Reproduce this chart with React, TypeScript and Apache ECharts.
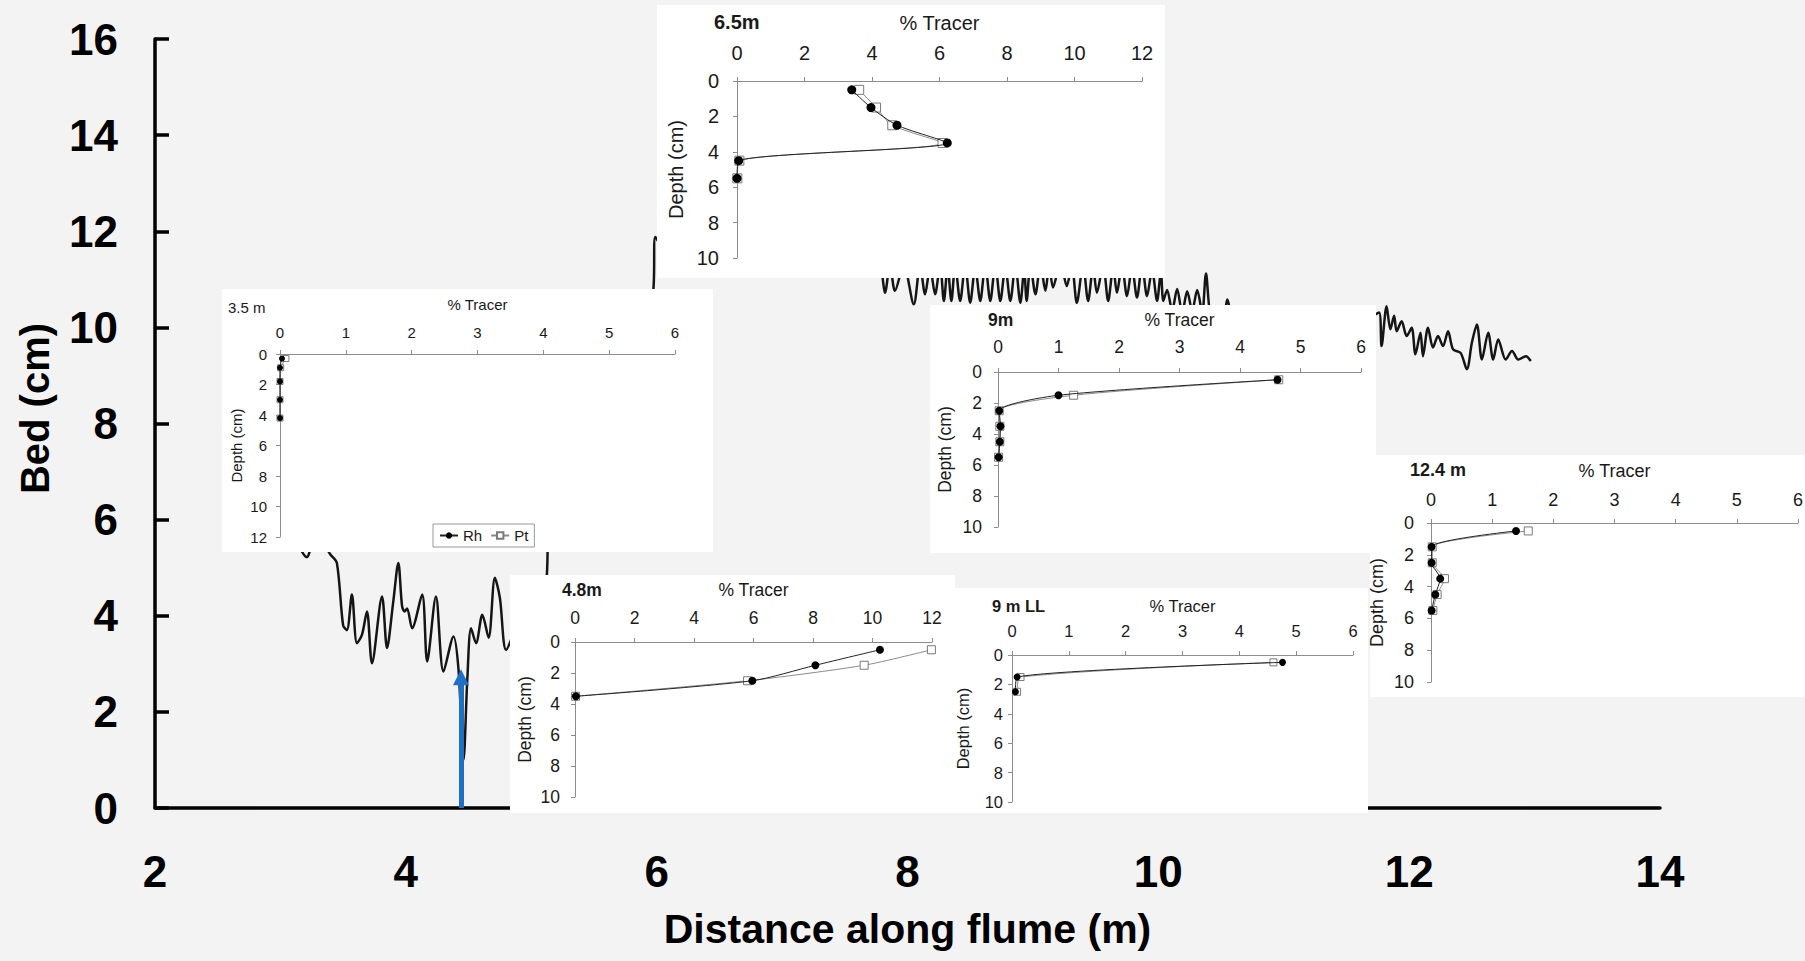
import React, { useEffect, useRef } from "react";
import * as echarts from "echarts";

const FONT = '"Liberation Sans", Arial, Helvetica, sans-serif';

// ---------- main bed profile (distance m, bed height cm) ----------
const bedProfile: [number, number][] = [
  [3.0, 6.2], [3.1, 5.7], [3.21, 5.22], [3.28, 5.7], [3.34, 5.5], [3.4, 5.27], [3.45, 5.1],
  [3.5, 3.8], [3.53, 3.7], [3.57, 4.44], [3.61, 3.43], [3.65, 3.6], [3.69, 4.09], [3.73, 3.01],
  [3.81, 4.4], [3.85, 3.33], [3.9, 4.3], [3.94, 5.1], [3.97, 4.2], [3.99, 4.09], [4.01, 4.15],
  [4.05, 3.74], [4.13, 4.44], [4.17, 3.05], [4.24, 4.4], [4.3, 2.84], [4.38, 3.57], [4.42, 2.88],
  [4.46, 1.0], [4.49, 2.67], [4.52, 3.74], [4.56, 3.43], [4.61, 4.02], [4.66, 3.54], [4.71, 4.79],
  [4.75, 4.37], [4.8, 3.29], [4.9, 3.9], [5.0, 4.3], [5.08, 4.6], [5.12, 4.7], [5.14, 6.0],
  [5.25, 8.0], [5.45, 9.3], [5.65, 10.0], [5.85, 10.4], [5.97, 10.7], [5.99, 11.88], [6.1, 11.5],
  [6.3, 11.7], [6.6, 11.4], [6.9, 11.6], [7.2, 11.3], [7.5, 11.5], [7.7, 11.1], [7.78, 11.2],
  [7.82, 10.72], [7.86, 11.3], [7.9, 10.76], [7.97, 11.3], [8.05, 10.48], [8.1, 11.3], [8.14, 10.69],
  [8.18, 11.25], [8.22, 10.69], [8.26, 11.3], [8.29, 10.55], [8.32, 11.25], [8.35, 10.55], [8.38, 11.3],
  [8.42, 10.55], [8.46, 11.3], [8.5, 10.51], [8.54, 11.25], [8.58, 10.55], [8.62, 11.3], [8.66, 10.55],
  [8.7, 11.3], [8.74, 10.55], [8.78, 11.25], [8.82, 10.55], [8.86, 11.3], [8.9, 10.51], [8.93, 11.2],
  [8.95, 10.55], [8.98, 11.3], [9.02, 10.69], [9.06, 11.3], [9.1, 10.76], [9.13, 11.3], [9.16, 10.83],
  [9.22, 11.35], [9.27, 10.86], [9.31, 11.3], [9.35, 10.51], [9.4, 11.3], [9.44, 10.55], [9.48, 11.25],
  [9.51, 10.72], [9.56, 11.3], [9.6, 10.55], [9.64, 11.25], [9.67, 10.72], [9.71, 11.3], [9.75, 10.65],
  [9.79, 11.25], [9.83, 10.62], [9.87, 11.3], [9.91, 10.65], [9.95, 11.2], [9.99, 10.55], [10.02, 11.15],
  [10.04, 10.55], [10.07, 10.78], [10.11, 10.35], [10.15, 10.8], [10.19, 10.3], [10.23, 10.75],
  [10.27, 10.35], [10.31, 10.78], [10.35, 10.3], [10.38, 11.12], [10.42, 10.3], [10.47, 10.4],
  [10.52, 10.2], [10.55, 10.58], [10.6, 10.15], [10.7, 10.4], [10.8, 10.1], [10.9, 10.35], [11.0, 10.0],
  [11.1, 10.3], [11.2, 9.9], [11.3, 10.2], [11.4, 9.9], [11.5, 10.3], [11.6, 9.8], [11.7, 10.2],
  [11.76, 10.31], [11.78, 9.61], [11.82, 10.44], [11.85, 9.96], [11.88, 10.24], [11.9, 9.92],
  [11.94, 10.13], [11.98, 9.82], [12.02, 9.99], [12.05, 9.44], [12.09, 9.89], [12.11, 9.4],
  [12.15, 9.99], [12.19, 9.58], [12.23, 9.82], [12.27, 9.61], [12.31, 9.92], [12.35, 9.54],
  [12.41, 9.47], [12.46, 9.13], [12.5, 9.68], [12.54, 10.06], [12.58, 9.33], [12.63, 9.89],
  [12.67, 9.33], [12.71, 9.75], [12.77, 9.33], [12.82, 9.51], [12.87, 9.33], [12.93, 9.4], [12.97, 9.3],
];

// blue arrow: position along flume (m) and top (cm)
const arrowX = 4.44;
const arrowTop = 2.72;

// ---------- inset tracer profiles: depth (cm) and % tracer ----------
const depth35 = [0.3, 0.9, 1.8, 3.0, 4.2];
const rh35 = [0.03, 0.0, 0.0, 0.0, 0.0];
const pt35 = [0.09, 0.01, 0.0, 0.0, 0.0];

const depth65 = [0.5, 1.5, 2.5, 3.5, 4.5, 5.5];
const rh65 = [3.4, 3.97, 4.74, 6.23, 0.05, 0.0];
const pt65 = [3.62, 4.12, 4.6, 6.09, 0.07, 0.01];

const depth9 = [0.5, 1.5, 2.5, 3.5, 4.5, 5.5];
const rh9 = [4.62, 1.0, 0.02, 0.04, 0.03, 0.01];
const pt9 = [4.64, 1.25, 0.02, 0.03, 0.03, 0.01];

const depth124 = [0.5, 1.5, 2.5, 3.5, 4.5, 5.5];
const rh124 = [1.39, 0.01, 0.01, 0.15, 0.07, 0.01];
const pt124 = [1.59, 0.02, 0.02, 0.22, 0.1, 0.03];

const depth48 = [0.5, 1.5, 2.5, 3.5];
const rh48 = [10.25, 8.08, 5.96, 0.03];
const pt48 = [11.98, 9.72, 5.8, 0.02];

const depth9LL = [0.5, 1.5, 2.5];
const rh9LL = [4.76, 0.09, 0.06];
const pt9LL = [4.6, 0.15, 0.09];

// ---------- inset layout ----------
type Inset = {
  title: string; bold: boolean; tx: number; ty: number;
  rect: [number, number, number, number];
  grid: { left: number; top: number; width: number; height: number };
  xMax: number; xInt: number; yMax: number; font: number;
  xMargin: number; xNameGap: number; yMargin: number; yNameGap: number; sym: number;
  depth: number[]; rh: number[]; pt: number[];
};

const insets: Inset[] = [
  { title: "3.5 m", bold: false, tx: 228, ty: 307, rect: [222, 289, 491, 263],
    grid: { left: 280, top: 354, width: 395, height: 183 }, xMax: 6, xInt: 1, yMax: 12, font: 15,
    xMargin: 14, xNameGap: 42, yMargin: 13, yNameGap: 36, sym: 6, depth: depth35, rh: rh35, pt: pt35 },
  { title: "6.5m", bold: true, tx: 714, ty: 22, rect: [657, 5, 508, 273],
    grid: { left: 737, top: 81, width: 405, height: 177 }, xMax: 12, xInt: 2, yMax: 10, font: 20,
    xMargin: 18, xNameGap: 48, yMargin: 18, yNameGap: 51, sym: 9, depth: depth65, rh: rh65, pt: pt65 },
  { title: "9m", bold: true, tx: 988, ty: 320, rect: [930, 305, 446, 248],
    grid: { left: 998, top: 372, width: 363, height: 155 }, xMax: 6, xInt: 1, yMax: 10, font: 17.5,
    xMargin: 16, xNameGap: 43, yMargin: 16, yNameGap: 44, sym: 8, depth: depth9, rh: rh9, pt: pt9 },
  { title: "12.4 m", bold: true, tx: 1410, ty: 470, rect: [1370, 455, 435, 242],
    grid: { left: 1431, top: 523, width: 367, height: 159 }, xMax: 6, xInt: 1, yMax: 10, font: 18,
    xMargin: 14, xNameGap: 43, yMargin: 17, yNameGap: 45, sym: 8, depth: depth124, rh: rh124, pt: pt124 },
  { title: "4.8m", bold: true, tx: 562, ty: 590, rect: [510, 575, 445, 238],
    grid: { left: 575, top: 642, width: 357, height: 155 }, xMax: 12, xInt: 2, yMax: 10, font: 17.5,
    xMargin: 15, xNameGap: 43, yMargin: 15, yNameGap: 41, sym: 8, depth: depth48, rh: rh48, pt: pt48 },
  { title: "9 m LL", bold: true, tx: 992, ty: 606, rect: [955, 588, 413, 225],
    grid: { left: 1012, top: 655, width: 341, height: 147 }, xMax: 6, xInt: 1, yMax: 10, font: 16.5,
    xMargin: 16, xNameGap: 41, yMargin: 9, yNameGap: 41, sym: 7, depth: depth9LL, rh: rh9LL, pt: pt9LL },
];

function buildOption() {
  const grids: any[] = [
    { left: 155, top: 39, width: 1505, height: 769, containLabel: false, outerBoundsMode: "none" },
  ];
  const xAxes: any[] = [
    {
      gridIndex: 0, type: "value", min: 2, max: 14, interval: 2, position: "bottom", z: 0,
      axisLine: { onZero: false, lineStyle: { color: "#000", width: 3.5 } },
      axisTick: { show: false }, splitLine: { show: false },
      axisLabel: { fontSize: 44, fontWeight: "bold", color: "#000", margin: 41, fontFamily: FONT,
        showMinLabel: true, showMaxLabel: true, hideOverlap: false },
      name: "Distance along flume (m)", nameLocation: "middle", nameGap: 100,
      nameTextStyle: { fontSize: 41, fontWeight: "bold", color: "#000", fontFamily: FONT },
    },
  ];
  const yAxes: any[] = [
    {
      gridIndex: 0, type: "value", min: 0, max: 16, interval: 2, z: 0,
      axisLine: { onZero: false, lineStyle: { color: "#000", width: 3.5 } },
      axisTick: { show: true, inside: true, length: 14, lineStyle: { color: "#000", width: 3.5 } },
      splitLine: { show: false },
      axisLabel: { fontSize: 44, fontWeight: "bold", color: "#000", margin: 37, fontFamily: FONT,
        showMinLabel: true, showMaxLabel: true, hideOverlap: false },
      name: "Bed (cm)", nameLocation: "middle", nameRotate: 90, nameGap: 100,
      nameTextStyle: { fontSize: 40, fontWeight: "bold", color: "#000", fontFamily: FONT, padding: [0, 0, 0, 30] },
    },
  ];
  const series: any[] = [
    {
      type: "line", name: "bed", xAxisIndex: 0, yAxisIndex: 0, data: bedProfile,
      symbol: "none", showSymbol: false, smooth: 0.3, z: 2, silent: true,
      lineStyle: { color: "#151515", width: 2.5 },
      markLine: {
        silent: true, symbol: ["none", "triangle"], symbolSize: 16, animation: false,
        label: { show: false },
        lineStyle: { color: "#1f6fc6", width: 5, type: "solid" },
        emphasis: { disabled: true },
        data: [[{ coord: [arrowX, 0] }, { coord: [arrowX, arrowTop] }]],
      },
    },
  ];
  const graphics: any[] = [];
  const axisGray = "#8c8c8c";
  const textCol = "#1a1a1a";

  insets.forEach((ins, i) => {
    const g = i + 1;
    grids.push({ ...ins.grid, containLabel: false, outerBoundsMode: "none" });
    xAxes.push({
      gridIndex: g, type: "value", position: "top", min: 0, max: ins.xMax, interval: ins.xInt, z: 60,
      axisLine: { show: true, onZero: false, lineStyle: { color: axisGray, width: 1 } },
      axisTick: { show: true, inside: false, length: 4, lineStyle: { color: axisGray, width: 1 } },
      splitLine: { show: false },
      axisLabel: { fontSize: ins.font, color: textCol, margin: ins.xMargin, fontFamily: FONT,
        showMinLabel: true, showMaxLabel: true, hideOverlap: false },
      name: "% Tracer", nameLocation: "middle", nameGap: ins.xNameGap,
      nameTextStyle: { fontSize: ins.font, color: textCol, fontFamily: FONT },
    });
    yAxes.push({
      gridIndex: g, type: "value", inverse: true, min: 0, max: ins.yMax, interval: 2, z: 60,
      axisLine: { show: true, onZero: false, lineStyle: { color: axisGray, width: 1 } },
      axisTick: { show: true, inside: false, length: 4, lineStyle: { color: axisGray, width: 1 } },
      splitLine: { show: false },
      axisLabel: { fontSize: ins.font, color: textCol, margin: ins.yMargin, fontFamily: FONT,
        showMinLabel: true, showMaxLabel: true, hideOverlap: false },
      name: "Depth (cm)", nameLocation: "middle", nameRotate: 90, nameGap: ins.yNameGap,
      nameTextStyle: { fontSize: ins.font, color: textCol, fontFamily: FONT },
    });
    series.push({
      type: "line", name: "Pt", xAxisIndex: g, yAxisIndex: g,
      data: ins.pt.map((v, j) => [v, ins.depth[j]]),
      symbol: "rect", symbolSize: ins.sym, showSymbol: true, smooth: 0.25, z: 70, silent: true,
      itemStyle: { color: "#ffffff", borderColor: "#7a7a7a", borderWidth: 1 },
      lineStyle: { color: "#8a8a8a", width: 1 },
    });
    series.push({
      type: "line", name: "Rh", xAxisIndex: g, yAxisIndex: g,
      data: ins.rh.map((v, j) => [v, ins.depth[j]]),
      symbol: "circle", symbolSize: ins.sym, showSymbol: true, smooth: 0.25, z: 71, silent: true,
      itemStyle: { color: "#000000" },
      lineStyle: { color: "#222222", width: 1 },
    });
    graphics.push({
      type: "rect", z: 50, silent: true,
      shape: { x: ins.rect[0], y: ins.rect[1], width: ins.rect[2], height: ins.rect[3] },
      style: { fill: "#ffffff" },
    });
    graphics.push({
      type: "text", z: 60, silent: true, x: ins.tx, y: ins.ty,
      style: {
        text: ins.title, fontSize: ins.font, fontWeight: ins.bold ? "bold" : "normal",
        fontFamily: FONT, fill: textCol, align: "left", verticalAlign: "middle",
      },
    });
  });

  return {
    animation: false,
    backgroundColor: "#f3f3f3",
    grid: grids,
    xAxis: xAxes,
    yAxis: yAxes,
    series,
    graphic: { elements: graphics },
    legend: {
      data: ["Rh", "Pt"], left: 433, top: 524, z: 60, orient: "horizontal",
      itemWidth: 18, itemHeight: 8, itemGap: 8, padding: [4, 6],
      borderColor: "#999", borderWidth: 1, backgroundColor: "#ffffff", selectedMode: false,
      textStyle: { fontSize: 15, color: textCol, fontFamily: FONT },
    },
  };
}

export default function App() {
  const ref = useRef<HTMLDivElement>(null);
  useEffect(() => {
    if (!ref.current) return;
    const chart = echarts.init(ref.current, null, { renderer: "svg" });
    chart.setOption(buildOption() as any);
    return () => chart.dispose();
  }, []);
  return (
    <div
      ref={ref}
      style={{ position: "fixed", left: 0, top: 0, width: 1805, height: 961 }}
    />
  );
}
